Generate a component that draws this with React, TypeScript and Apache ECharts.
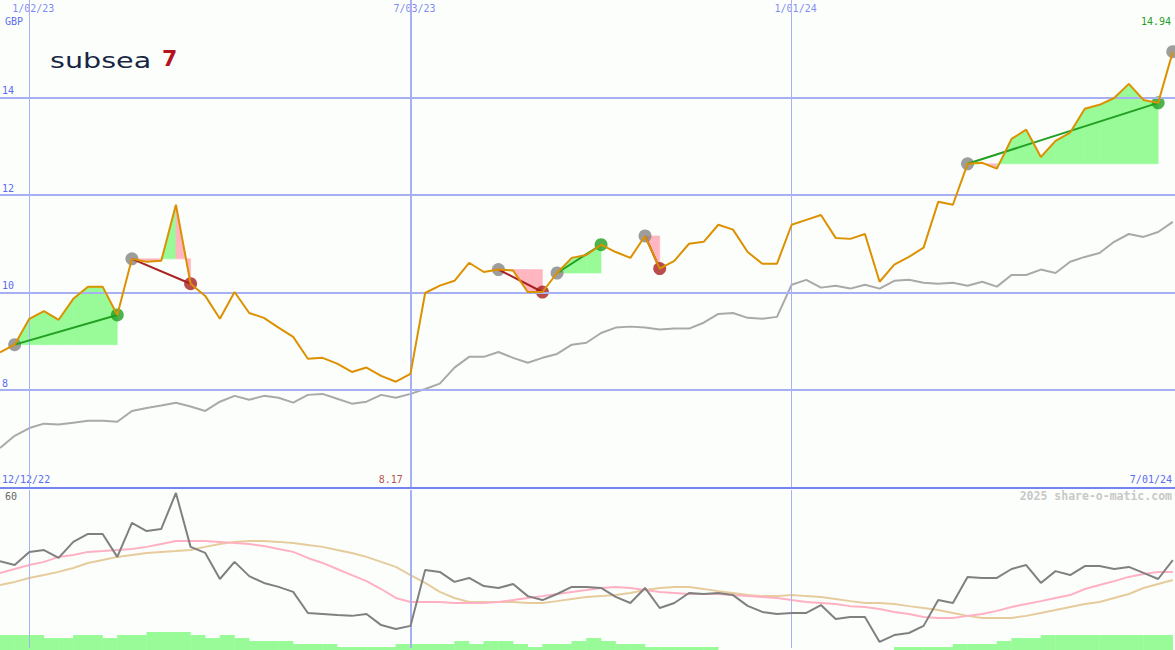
import React, { useEffect, useRef } from "react";
import * as echarts from "echarts";

// ---- data (weekly points, index 0 .. 80) ----
const dateTicks = [2, 28, 54];
const dateLabels = ["1/02/23", "7/03/23", "1/01/24"];
const startLabel = "12/12/22";
const endLabel = "7/01/24";
const priceTicks = [8, 10, 12, 14];
const currency = "GBP";

const price = [
  8.77, 8.93, 9.46, 9.62, 9.44, 9.87, 10.12, 10.12, 9.54, 10.69,
  10.63, 10.65, 11.8, 10.18, 9.93, 9.46, 10.01, 9.58, 9.48, 9.28,
  9.09, 8.64, 8.66, 8.54, 8.37, 8.46, 8.29, 8.17, 8.33, 9.99,
  10.14, 10.24, 10.61, 10.42, 10.47, 10.45, 10.01, 10.01, 10.4, 10.71,
  10.77, 10.98, 10.83, 10.71, 11.16, 10.49, 10.65, 11.0, 11.04, 11.39,
  11.29, 10.83, 10.59, 10.59, 11.39, 11.49, 11.59, 11.12, 11.1, 11.2,
  10.22, 10.57, 10.73, 10.92, 11.86, 11.8, 12.64, 12.66, 12.54, 13.15,
  13.34, 12.78, 13.11, 13.28, 13.77, 13.85, 13.99, 14.28, 13.95, 13.89,
  14.94,
];

const relative = [
  6.81, 7.06, 7.22, 7.31, 7.29, 7.33, 7.37, 7.37, 7.35, 7.57,
  7.63, 7.68, 7.74, 7.66, 7.57, 7.76, 7.88, 7.8, 7.88, 7.84,
  7.74, 7.9, 7.92, 7.82, 7.72, 7.76, 7.9, 7.84, 7.92, 8.02,
  8.13, 8.46, 8.68, 8.68, 8.78, 8.66, 8.56, 8.66, 8.74, 8.93,
  8.97, 9.17, 9.28, 9.3, 9.28, 9.24, 9.26, 9.26, 9.38, 9.56,
  9.58, 9.48, 9.46, 9.5, 10.16, 10.26, 10.1, 10.14, 10.08, 10.16,
  10.08, 10.24, 10.26, 10.2, 10.18, 10.2, 10.14, 10.22, 10.12, 10.36,
  10.36, 10.47, 10.4, 10.63, 10.73, 10.81, 11.04, 11.2, 11.14, 11.24,
  11.45,
];

const momentum = [
  33.0, 31.5, 36.5, 37.2, 34.2, 40.3, 43.3, 43.3, 34.6, 47.5,
  44.4, 45.2, 58.9, 38.4, 36.1, 26.2, 32.7, 27.3, 24.7, 23.2,
  21.3, 13.3, 12.9, 12.5, 12.2, 12.9, 8.7, 7.2, 8.4, 29.6,
  28.9, 25.1, 26.6, 23.5, 22.8, 24.3, 19.7, 18.2, 20.5, 23.2,
  23.2, 22.8, 19.4, 17.1, 22.8, 15.2, 17.1, 20.9, 20.5, 20.9,
  20.1, 16.0, 13.7, 12.9, 13.3, 13.3, 16.3, 11.0, 11.8, 11.8,
  2.3, 4.9, 5.7, 8.4, 18.2, 17.1, 27.0, 26.6, 26.6, 30.0,
  31.5, 24.7, 29.2, 27.7, 31.1, 31.1, 30.0, 30.8, 28.5, 26.2,
  33.4,
];

const avgFast = [
  28.5, 30.0, 31.5, 32.7, 34.6, 35.3, 36.5, 36.8, 37.2, 37.6,
  38.4, 39.5, 40.6, 40.6, 40.6, 40.3, 39.9, 39.5, 38.7, 37.6,
  36.5, 34.2, 32.3, 30.0, 27.7, 25.4, 22.4, 19.0, 17.5, 17.5,
  17.5, 17.1, 17.1, 17.1, 17.5, 18.2, 19.0, 19.7, 20.5, 21.3,
  22.0, 22.8, 23.2, 22.8, 22.0, 21.3, 20.9, 20.5, 20.5, 20.5,
  20.1, 19.7, 19.4, 19.0, 18.2, 17.5, 17.1, 16.7, 15.9, 15.6,
  14.8, 13.7, 12.9, 11.8, 11.4, 11.4, 12.2, 12.9, 14.1, 15.6,
  16.7, 17.8, 19.0, 20.1, 22.4, 23.9, 25.4, 27.0, 28.1, 28.9,
  28.9,
];

const avgSlow = [
  23.9, 25.1, 26.6, 27.7, 28.9, 30.4, 32.3, 33.4, 34.6, 35.3,
  36.1, 36.5, 36.8, 37.2, 38.4, 39.5, 40.3, 40.6, 40.6, 40.3,
  39.9, 39.1, 38.4, 37.2, 36.1, 34.6, 32.7, 30.8, 27.7, 24.7,
  21.3, 19.0, 17.5, 17.5, 17.5, 17.5, 17.1, 17.1, 17.8, 18.6,
  19.4, 19.7, 20.1, 20.9, 22.0, 22.8, 23.2, 23.2, 22.4, 21.6,
  20.9, 20.1, 19.7, 19.7, 20.1, 19.7, 19.4, 18.6, 17.8, 17.1,
  17.1, 16.7, 15.9, 15.2, 14.4, 13.3, 12.2, 11.4, 11.4, 11.4,
  12.2, 13.3, 14.4, 15.6, 16.7, 17.5, 19.0, 20.5, 22.8, 24.3,
  25.8,
];

// volume level for each week interval [i, i+1]
const volume = [
  5, 5, 5, 4, 4, 5, 5, 4, 5, 5,
  6, 6, 6, 5, 4, 5, 4, 3, 3, 3,
  2, 2, 2, 1, 1, 1, 1, 2, 2, 2,
  2, 3, 2, 3, 3, 2, 1, 2, 2, 3,
  4, 3, 2, 2, 1, 1, 1, 1, 1, 0,
  0, 0, 0, 0, 0, 0, 0, 0, 0, 0,
  0, 1, 1, 1, 1, 2, 2, 2, 3, 4,
  4, 5, 5, 5, 5, 5, 5, 5, 5, 5,
];

// trade signals: [start index, end index]
const signals = [
  [1, 8],
  [9, 13],
  [34, 37],
  [38, 41],
  [44, 45],
  [66, 79],
];
const openSignal = 80;

// ---- styles ----
const X_MAX = 80.15;
const BG = "#fcfefc";
const GRID_BLUE = "#a6b0f2";
const LABEL_BLUE = "#5b6cf0";
const MONO = "DejaVu Sans Mono";
const GREEN_DOT = "#22a022";
const RED_DOT = "#a82020";
const GRAY_DOT = "#858585";

function buildOption() {
  const idx = price.map((_, i) => i);
  const pricePts = idx.map((i) => [i, price[i]]);
  const relPts = idx.map((i) => [i, relative[i]]);
  const momPts = idx.map((i) => [i, momentum[i]]);
  const fastPts = idx.map((i) => [i, avgFast[i]]);
  const slowPts = idx.map((i) => [i, avgSlow[i]]);
  const volPts = volume.map((v, i) => [i + 0.5, v]);

  const fillData: number[][] = [];
  signals.forEach(([s, e]) => {
    const base = price[s];
    for (let i = s; i < e; i++) {
      fillData.push([i, price[i], i + 1, price[i + 1], base, price[i + 1] >= base ? 1 : 0]);
    }
  });

  const markerData: any[] = [];
  signals.forEach(([s, e]) => {
    const up = price[e] > price[s];
    markerData.push({ value: [s, price[s]], itemStyle: { color: GRAY_DOT } });
    markerData.push({ value: [e, price[e]], itemStyle: { color: up ? GREEN_DOT : RED_DOT } });
  });
  markerData.push({ value: [openSignal, price[openSignal]], itemStyle: { color: GRAY_DOT } });

  const signalSeries = signals.map(([s, e]) => {
    const up = price[e] > price[s];
    return {
      type: "line",
      xAxisIndex: 0,
      yAxisIndex: 0,
      data: [
        [s, price[s]],
        [e, price[e]],
      ],
      symbol: "none",
      lineStyle: { color: up ? GREEN_DOT : RED_DOT, width: 2 },
      z: 5,
      silent: true,
    };
  });

  let minIdx = 0;
  price.forEach((v, i) => {
    if (v < price[minIdx]) minIdx = i;
  });

  const vLineStyle = (i: number) => ({
    color: GRID_BLUE,
    width: i === 28 ? 2 : 1,
    type: "solid",
  });

  return {
    animation: false,
    backgroundColor: BG,
    grid: [
      { left: 0, right: 0, top: 0, height: 487.5 },
      { left: 0, right: 0, top: 490, bottom: 2 },
      { left: 0, right: 0, top: 600, bottom: 0 },
    ],
    xAxis: [0, 1, 2].map((g) => ({
      type: "value",
      gridIndex: g,
      min: 0,
      max: X_MAX,
      show: false,
    })),
    yAxis: [
      { type: "value", gridIndex: 0, min: 6, max: 16, show: false },
      { type: "value", gridIndex: 1, min: 0, max: 60, show: false },
      { type: "value", gridIndex: 2, min: 0, max: 50 / 3, show: false },
    ],
    graphic: [
      {
        type: "text",
        x: 5,
        y: 21.5,
        style: { text: currency, font: `10px "${MONO}"`, fill: LABEL_BLUE, verticalAlign: "middle" },
      },
      {
        type: "text",
        x: 1171,
        y: 21,
        style: {
          text: price[price.length - 1].toFixed(2),
          font: `10px "${MONO}"`,
          fill: GREEN_DOT,
          align: "right",
          verticalAlign: "middle",
        },
      },
      {
        type: "text",
        x: 2,
        y: 479,
        style: { text: startLabel, font: `10px "${MONO}"`, fill: LABEL_BLUE, verticalAlign: "middle" },
      },
      {
        type: "text",
        x: 1172,
        y: 479,
        style: { text: endLabel, font: `10px "${MONO}"`, fill: LABEL_BLUE, align: "right", verticalAlign: "middle" },
      },
      {
        type: "text",
        x: 1172,
        y: 496,
        style: {
          text: "2025 share-o-matic.com",
          font: `bold 11.5px "${MONO}"`,
          fill: "#c8c8c8",
          align: "right",
          verticalAlign: "middle",
        },
      },
      {
        type: "text",
        x: 5,
        y: 496,
        style: { text: "60", font: `10px "${MONO}"`, fill: "#666666", verticalAlign: "middle" },
      },
      {
        type: "text",
        x: 5,
        y: 642,
        style: { text: "0", font: `10px "${MONO}"`, fill: "#666666", verticalAlign: "middle" },
      },
      {
        type: "text",
        x: 50,
        y: 60,
        scaleX: 1.3,
        originX: 0,
        originY: 0,
        style: {
          text: "subsea",
          font: `22px "DejaVu Sans"`,
          fill: "#172642",
          verticalAlign: "middle",
        },
      },
      {
        type: "text",
        x: 162,
        y: 58.5,
        style: {
          text: "7",
          font: `bold 22px "DejaVu Sans"`,
          fill: "#b3141e",
          verticalAlign: "middle",
        },
      },
    ],
    series: [
      // signal fills
      {
        type: "custom",
        xAxisIndex: 0,
        yAxisIndex: 0,
        data: fillData,
        encode: { x: [0, 2], y: [1, 3, 4] },
        z: 1,
        silent: true,
        renderItem: (params: any, api: any) => {
          const a = api.coord([api.value(0), api.value(4)]);
          const b = api.coord([api.value(0), api.value(1)]);
          const c = api.coord([api.value(2), api.value(3)]);
          const d = api.coord([api.value(2), api.value(4)]);
          const col = api.value(5) ? "#98fb98" : "#ffb6c1";
          return {
            type: "polygon",
            shape: { points: [a, b, c, d] },
            style: { fill: col, stroke: col, lineWidth: 0.6 },
          };
        },
      },
      // grid lines top panel
      {
        type: "line",
        xAxisIndex: 0,
        yAxisIndex: 0,
        data: [],
        z: 2,
        silent: true,
        markLine: {
          silent: true,
          symbol: ["none", "none"],
          animation: false,
          data: [
            ...priceTicks.map((v) => ({
              yAxis: v,
              lineStyle: { color: GRID_BLUE, width: 2, type: "solid" },
              label: {
                show: true,
                position: "insideStartTop",
                formatter: String(v),
                color: LABEL_BLUE,
                fontFamily: MONO,
                fontSize: 10,
                distance: 2,
                padding: [0, 0, 0, 0],
              },
            })),
            ...dateTicks.map((i) => ({
              xAxis: i,
              lineStyle: vLineStyle(i),
              label: { show: false },
            })),
            {
              yAxis: 6,
              lineStyle: { color: "#7584ee", width: 2, type: "solid" },
              label: { show: false },
            },
          ],
        },
      },
      // grid lines bottom panel
      {
        type: "line",
        xAxisIndex: 1,
        yAxisIndex: 1,
        data: [],
        z: 2,
        silent: true,
        markLine: {
          silent: true,
          symbol: ["none", "none"],
          animation: false,
          label: { show: false },
          data: dateTicks.map((i) => ({ xAxis: i, lineStyle: vLineStyle(i) })),
        },
      },
      // date labels at top
      {
        type: "scatter",
        xAxisIndex: 0,
        yAxisIndex: 0,
        symbolSize: 1,
        itemStyle: { color: "transparent" },
        silent: true,
        z: 2,
        data: dateTicks.map((i, k) => ({ value: [i, 16], name: dateLabels[k] })),
        label: {
          show: true,
          position: "bottom",
          distance: 3,
          offset: [4, 0],
          formatter: "{b}",
          color: LABEL_BLUE,
          fontFamily: MONO,
          fontSize: 10,
        },
      },
      // minimum label
      {
        type: "scatter",
        xAxisIndex: 0,
        yAxisIndex: 0,
        symbolSize: 1,
        itemStyle: { color: "transparent" },
        silent: true,
        z: 2,
        data: [{ value: [minIdx, 6], name: price[minIdx].toFixed(2) }],
        label: {
          show: true,
          position: "top",
          distance: 3,
          offset: [-5, 0],
          formatter: "{b}",
          color: RED_DOT,
          fontFamily: MONO,
          fontSize: 10,
        },
      },
      // relative line
      {
        type: "line",
        xAxisIndex: 0,
        yAxisIndex: 0,
        data: relPts,
        symbol: "none",
        lineStyle: { color: "#a9a9a9", width: 2 },
        z: 3,
        silent: true,
      },
      // signal markers
      {
        type: "scatter",
        xAxisIndex: 0,
        yAxisIndex: 0,
        data: markerData,
        symbol: "circle",
        symbolSize: 13,
        z: 4,
        silent: true,
      },
      ...signalSeries,
      // price
      {
        type: "line",
        xAxisIndex: 0,
        yAxisIndex: 0,
        data: pricePts,
        symbol: "none",
        lineStyle: { color: "#dc9100", width: 2 },
        z: 6,
        silent: true,
      },
      // bottom panel
      {
        type: "bar",
        xAxisIndex: 2,
        yAxisIndex: 2,
        data: volPts,
        barWidth: 15,
        itemStyle: { color: "#98fb98" },
        z: 1,
        silent: true,
      },
      {
        type: "line",
        xAxisIndex: 1,
        yAxisIndex: 1,
        data: slowPts,
        symbol: "none",
        lineStyle: { color: "#e6cc9c", width: 2 },
        z: 3,
        silent: true,
      },
      {
        type: "line",
        xAxisIndex: 1,
        yAxisIndex: 1,
        data: fastPts,
        symbol: "none",
        lineStyle: { color: "#ffb0c2", width: 2 },
        z: 4,
        silent: true,
      },
      {
        type: "line",
        xAxisIndex: 1,
        yAxisIndex: 1,
        data: momPts,
        symbol: "none",
        lineStyle: { color: "#808080", width: 2 },
        z: 5,
        silent: true,
      },
    ],
  };
}

export default function App() {
  const ref = useRef<HTMLDivElement>(null);
  useEffect(() => {
    if (!ref.current) return;
    const chart = echarts.init(ref.current, null, { renderer: "svg" });
    chart.setOption(buildOption() as any);
    return () => chart.dispose();
  }, []);
  return (
    <div
      ref={ref}
      style={{ position: "absolute", left: 0, top: 0, width: 1175, height: 650 }}
    />
  );
}
